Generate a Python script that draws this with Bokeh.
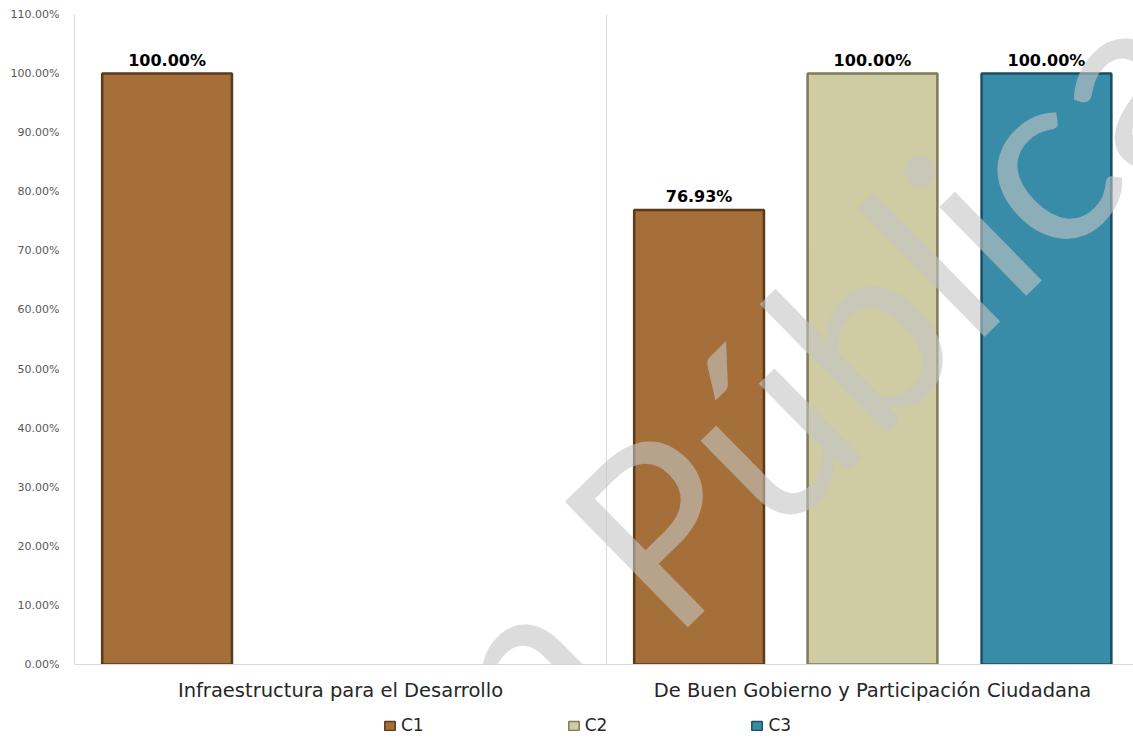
import numpy as np
from bokeh.plotting import figure
from bokeh.layouts import column
from bokeh.models import (ColumnDataSource, Range1d, FixedTicker, NumeralTickFormatter,
                          Span, Legend, LegendItem, Label)
from bokeh.transform import dodge
from bokeh.core.properties import value
from bokeh.embed import file_html
from bokeh.resources import INLINE

# ---- data ----
categories = ["Infraestructura para el Desarrollo",
              "De Buen Gobierno y Participación Ciudadana"]
series = ["C1", "C2", "C3"]
c1 = [1.0, 0.7693]
c2 = [np.nan, 1.0]
c3 = [np.nan, 1.0]
y_ticks = [0.0, 0.1, 0.2, 0.3, 0.4, 0.5, 0.6, 0.7, 0.8, 0.9, 1.0, 1.1]
watermark = "Versión Pública"

# ---- styles ----
fills = {"C1": "#A46F38", "C2": "#CFCBA2", "C3": "#388CA8"}
edges = {"C1": "#5A3A1B", "C2": "#7E7A5A", "C3": "#1B4E60"}
offsets = {"C1": -0.326, "C2": 0.0, "C3": 0.327}
bar_w = 0.244

xc = np.arange(len(categories)) + 0.5
values = {"C1": np.array(c1, dtype=float), "C2": np.array(c2, dtype=float),
          "C3": np.array(c3, dtype=float)}
source = ColumnDataSource(dict(xc=xc, **values))

p = figure(width=1133, height=704, x_range=Range1d(0, 1.9906), y_range=Range1d(0, 1.1),
           output_backend="svg", toolbar_location=None,
           min_border_left=74, min_border_right=0, min_border_top=14, min_border_bottom=40)
p.outline_line_color = None
p.xgrid.visible = False
p.ygrid.visible = False

for s in series:
    p.vbar(x=dodge("xc", offsets[s], range=p.x_range), top=s, width=bar_w, bottom=0,
           source=source, fill_color=fills[s], line_color=edges[s], line_width=2.5)
    v = values[s]
    mask = ~np.isnan(v)
    lsrc = ColumnDataSource(dict(xc=xc[mask], y=v[mask],
                                 lbl=[f"{t*100:.2f}%" for t in v[mask]]))
    p.text(x=dodge("xc", offsets[s], range=p.x_range), y="y", text="lbl", source=lsrc,
           text_align="center", text_baseline="bottom", y_offset=-4,
           text_font=value("DejaVu Sans"), text_font_style="bold",
           text_font_size="16px", text_color="#000000")

# category separator
p.add_layout(Span(location=1, dimension="height", line_color="#d9d9d9", line_width=1))

# y axis
p.yaxis.ticker = FixedTicker(ticks=y_ticks)
p.yaxis.formatter = NumeralTickFormatter(format="0.00%")
p.yaxis.axis_line_color = "#d9d9d9"
p.yaxis.major_tick_line_color = None
p.yaxis.minor_tick_line_color = None
p.yaxis.major_label_text_font = "DejaVu Sans"
p.yaxis.major_label_text_font_size = "11px"
p.yaxis.major_label_text_color = "#595959"
p.yaxis.major_label_standoff = 9

# x axis
p.xaxis.ticker = FixedTicker(ticks=list(xc))
p.xaxis.major_label_overrides = {float(x): c for x, c in zip(xc, categories)}
p.xaxis.axis_line_color = "#d9d9d9"
p.xaxis.major_tick_line_color = None
p.xaxis.minor_tick_line_color = None
p.xaxis.major_label_text_font = "DejaVu Sans"
p.xaxis.major_label_text_font_size = "19.5px"
p.xaxis.major_label_text_color = "#262626"
p.xaxis.major_label_standoff = 8

# watermark (decorative)
p.add_layout(Label(x=0.935, y=0.096, text=watermark, angle=0.775,
                   text_align="center", text_baseline="middle",
                   text_font="Lato", text_font_size="245px",
                   text_color="#c4c4c4", text_alpha=0.6))

# legend row
lg = figure(width=1133, height=34, x_range=Range1d(0, 1), y_range=Range1d(0, 1),
            output_backend="svg", toolbar_location=None, x_axis_type=None, y_axis_type=None,
            min_border_left=0, min_border_right=0, min_border_top=0, min_border_bottom=0)
lg.outline_line_color = None
lg.xgrid.visible = False
lg.ygrid.visible = False
items = []
for s in series:
    r = lg.vbar(x="xc", top=s, width=0.1, source=source, fill_color=fills[s],
                line_color=edges[s], line_width=1.5, visible=False)
    items.append(LegendItem(label=s, renderers=[r]))
legend = Legend(items=items, orientation="horizontal", location=(309, 3),
                spacing=143, glyph_width=13, glyph_height=11, label_standoff=5,
                label_text_font="DejaVu Sans", label_text_font_size="17px",
                label_text_color="#262626", border_line_color=None,
                background_fill_alpha=0, padding=0, margin=0,
                inactive_fill_alpha=0)
lg.add_layout(legend)

layout = column(p, lg, spacing=0)
open("out.html", "w").write(file_html(layout, INLINE))
